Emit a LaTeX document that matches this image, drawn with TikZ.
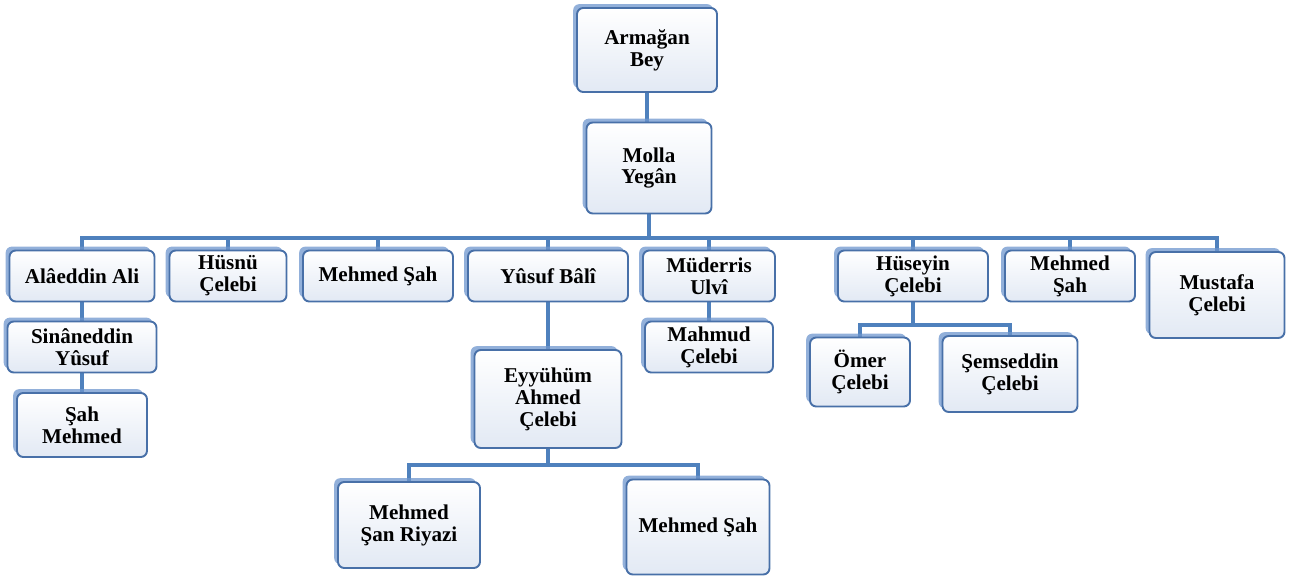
\documentclass[tikz,border=0pt]{standalone}
\usepackage{fontspec}
\setmainfont{Liberation Serif}
\usepackage{xcolor}
\usetikzlibrary{shadows, backgrounds}

\definecolor{linkblue}{RGB}{79,129,189}
\definecolor{edgeblue}{RGB}{72,112,168}
\definecolor{shadeblue}{RGB}{226,233,244}
\definecolor{shadowblue}{RGB}{110,150,205}

\tikzset{
    person/.style 2 args={draw=edgeblue, line width=1.1pt, rounded corners=3.5pt,
        top color=white, bottom color=shadeblue, align=center,
        font=\fontsize{12}{12.5}\selectfont\bfseries, inner sep=2pt,
        minimum width=#1cm, minimum height=#2cm,
        drop shadow={shadow xshift=-2.2pt, shadow yshift=2.2pt, fill=shadowblue, opacity=0.75}},
    link/.style={draw=linkblue, line width=2.2pt}
}

\begin{document}
\begin{tikzpicture}[x=0.02cm, y=-0.02cm]
    \useasboundingbox (0,0) rectangle (1292,580);

    \node[person={2.8}{1.68}] (armagan) at (647,50) {Armağan\\Bey};
    \node[person={2.5}{1.82}] (molla) at (649,168) {Molla\\Yegân};

    \node[person={2.9}{1.02}] (ali) at (82,276) {Alâeddin Ali};
    \node[person={2.34}{1.02}] (husnu) at (228,276) {Hüsnü\\Çelebi};
    \node[person={3.0}{1.02}] (mehmedA) at (378,276) {Mehmed Şah};
    \node[person={3.2}{1.02}] (yusuf) at (548,276) {Yûsuf Bâlî};
    \node[person={2.64}{1.02}] (muderris) at (709,276) {Müderris\\Ulvî};
    \node[person={3.0}{1.02}] (huseyin) at (913,276) {Hüseyin\\Çelebi};
    \node[person={2.6}{1.02}] (mehmedB) at (1070,276) {Mehmed\\Şah};
    \node[person={2.7}{1.72}] (mustafa) at (1217,295) {Mustafa\\Çelebi};

    \node[person={2.98}{1.02}] (sinan) at (82,347) {Sinâneddin\\Yûsuf};
    \node[person={2.6}{1.28}] (sahmehmed) at (82,425) {Şah\\Mehmed};
    \node[person={2.56}{1.02}] (mahmud) at (709,347) {Mahmud\\Çelebi};
    \node[person={2.0}{1.38}] (omer) at (860,372) {Ömer\\Çelebi};
    \node[person={2.7}{1.52}] (semseddin) at (1010,374) {Şemseddin\\Çelebi};
    \node[person={2.94}{1.96}] (eyyuhum) at (548,399) {Eyyühüm\\Ahmed\\Çelebi};

    \node[person={2.84}{1.72}] (riyazi) at (409,525) {Mehmed\\Şan Riyazi};
    \node[person={2.86}{1.9}] (mehmedC) at (698,527) {Mehmed Şah};

    \coordinate (topbar) at (0,238);
    \coordinate (husbar) at (0,325);
    \coordinate (eyybar) at (0,465);

    \begin{scope}[on background layer]
        \draw[link] (armagan.south) -- (armagan.south |- molla.north);
        \draw[link] (molla.south) -- (molla.south |- topbar);
        \draw[link] (ali.north) -- (ali.north |- topbar) -- (mustafa.north |- topbar) -- (mustafa.north);
        \draw[link] (husnu.north) -- (husnu.north |- topbar);
        \draw[link] (mehmedA.north) -- (mehmedA.north |- topbar);
        \draw[link] (yusuf.north) -- (yusuf.north |- topbar);
        \draw[link] (muderris.north) -- (muderris.north |- topbar);
        \draw[link] (huseyin.north) -- (huseyin.north |- topbar);
        \draw[link] (mehmedB.north) -- (mehmedB.north |- topbar);

        \draw[link] (ali.south) -- (sinan.north);
        \draw[link] (sinan.south) -- (sahmehmed.north);
        \draw[link] (muderris.south) -- (mahmud.north);
        \draw[link] (yusuf.south) -- (eyyuhum.north);

        \draw[link] (huseyin.south) -- (huseyin.south |- husbar);
        \draw[link] (omer.north) -- (omer.north |- husbar) -- (semseddin.north |- husbar) -- (semseddin.north);

        \draw[link] (eyyuhum.south) -- (eyyuhum.south |- eyybar);
        \draw[link] (riyazi.north) -- (riyazi.north |- eyybar) -- (mehmedC.north |- eyybar) -- (mehmedC.north);
    \end{scope}
\end{tikzpicture}
\end{document}
